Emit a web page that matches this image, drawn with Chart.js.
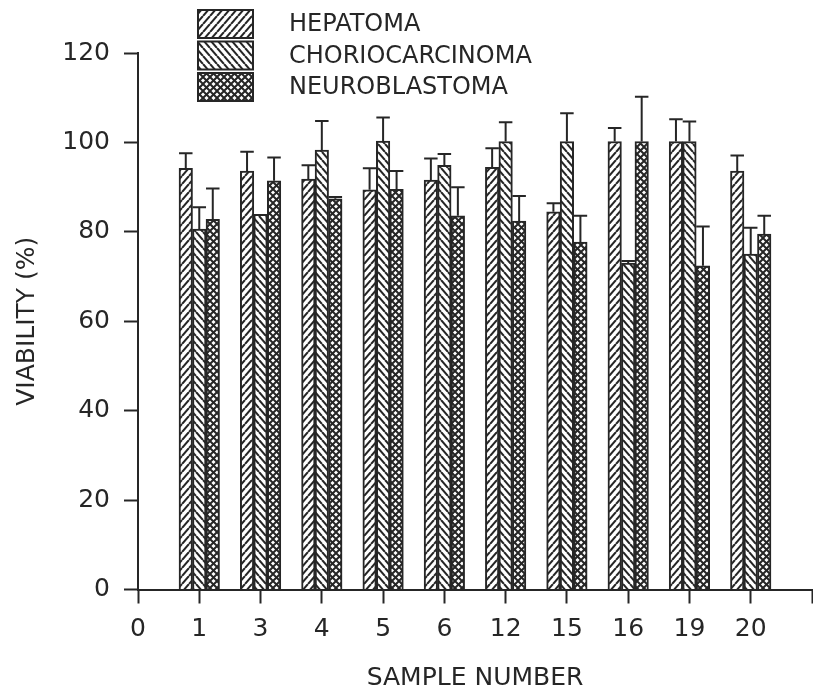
<!DOCTYPE html>
<html>
<head>
<meta charset="utf-8">
<script src="https://cdn.jsdelivr.net/npm/chart.js@4/dist/chart.umd.min.js"></script>
<style>
  html, body { margin: 0; padding: 0; background: #fff; }
  canvas { display: block; }
</style>
</head>
<body>
<canvas id="chart" width="813" height="691"></canvas>
<script>
// --- Data ---
const xLabels = ['0', '1', '3', '4', '5', '6', '12', '15', '16', '19', '20', ''];
const seriesNames = ['HEPATOMA', 'CHORIOCARCINOMA', 'NEUROBLASTOMA'];

const hepatoma    = [94.2, 93.6, 91.8, 89.4, 91.6, 94.4, 84.5, 100.2, 100.2, 93.6];
const hepatomaErr = [3.4, 4.3, 3.1, 4.8, 4.8, 4.3, 1.9, 3.0, 5.0, 3.5];

const chorio    = [80.6, 83.9, 98.3, 100.3, 94.9, 100.2, 100.2, 73.0, 100.2, 75.0];
const chorioErr = [4.9, 0, 6.5, 5.3, 2.5, 4.3, 6.3, 0.5, 4.5, 5.9];

const neuro    = [82.8, 91.4, 87.4, 89.5, 83.6, 82.4, 77.7, 100.2, 72.4, 79.5];
const neuroErr = [6.9, 5.2, 0.4, 4.1, 6.4, 5.6, 5.9, 10.0, 8.8, 4.1];

const yMin = 0, yMax = 120, yStep = 20;

(() => {
    const ink = '#262626';
    const numFont = { family: '"DejaVu Sans", sans-serif', size: 25 };
    const textFont = { family: '"DejaVu Sans", sans-serif', size: 25 };
    const legendFont = { family: '"DejaVu Sans", sans-serif', size: 24 };

    // pad the first ("0") and last (empty) slots of the axis
    const pad = arr => [null, ...arr, null];

    // --- Hatch patterns (plotter-style fills) ---
    function hatch(kind) {
        const w = 7;
        const h = kind === 'cross' ? 7 : 8;
        const c = document.createElement('canvas');
        c.width = w; c.height = h;
        const g = c.getContext('2d');
        g.fillStyle = '#fff';
        g.fillRect(0, 0, w, h);
        g.strokeStyle = ink;
        const up = () => {
            g.beginPath();
            [-w, 0, w].forEach(dx => { g.moveTo(dx, h); g.lineTo(dx + w, 0); });
            g.stroke();
        };
        const down = () => {
            g.beginPath();
            [-w, 0, w].forEach(dx => { g.moveTo(dx, 0); g.lineTo(dx + w, h); });
            g.stroke();
        };
        if (kind === 'up') { g.lineWidth = 2.1; up(); }
        if (kind === 'down') { g.lineWidth = 2.1; down(); }
        if (kind === 'cross') { g.lineWidth = 2; up(); down(); }
        return g.createPattern(c, 'repeat');
    }

    // --- Plugins ---
    const errorBars = {
        id: 'errorBars',
        afterDatasetsDraw(chart) {
            const { ctx } = chart;
            const y = chart.scales.y;
            ctx.save();
            ctx.strokeStyle = ink;
            ctx.lineWidth = 2;
            chart.data.datasets.forEach((ds, i) => {
                const meta = chart.getDatasetMeta(i);
                meta.data.forEach((bar, j) => {
                    const v = ds.data[j], e = ds.errors[j];
                    if (v == null || !e) return;
                    const top = y.getPixelForValue(v + e);
                    const half = bar.width / 2;
                    ctx.beginPath();
                    ctx.moveTo(bar.x, bar.y);
                    ctx.lineTo(bar.x, top);
                    ctx.moveTo(bar.x - half, top);
                    ctx.lineTo(bar.x + half, top);
                    ctx.stroke();
                });
            });
            ctx.restore();
        }
    };

    const boxLegend = {
        id: 'boxLegend',
        afterDraw(chart) {
            const { ctx } = chart;
            ctx.save();
            ctx.font = `${legendFont.size}px ${legendFont.family}`;
            ctx.textBaseline = 'middle';
            chart.data.datasets.forEach((ds, i) => {
                const top = 10 + i * 31.5;
                ctx.fillStyle = ds.backgroundColor;
                ctx.fillRect(198, top, 55, 28);
                ctx.strokeStyle = ink;
                ctx.lineWidth = 2;
                ctx.strokeRect(198, top, 55, 28);
                ctx.fillStyle = ink;
                ctx.fillText(ds.label, 289, top + 15);
            });
            ctx.restore();
        }
    };

    // --- Chart ---
    const series = [
        [hepatoma, hepatomaErr, 'up'],
        [chorio, chorioErr, 'down'],
        [neuro, neuroErr, 'cross']
    ];

    new Chart(document.getElementById('chart').getContext('2d'), {
        type: 'bar',
        data: {
            labels: xLabels,
            datasets: series.map(([vals, errs, kind], i) => ({
                label: seriesNames[i],
                data: pad(vals),
                errors: pad(errs),
                backgroundColor: hatch(kind),
                borderColor: ink,
                borderWidth: 2,
                barThickness: 13.5
            }))
        },
        options: {
            responsive: false,
            animation: false,
            layout: { padding: { top: 53, right: 1, left: 0, bottom: 0 } },
            plugins: { legend: { display: false }, tooltip: { enabled: false } },
            scales: {
                x: {
                    offset: false,
                    grid: { offset: false, drawOnChartArea: false, tickLength: 14, tickWidth: 2, tickColor: ink },
                    border: { color: ink, width: 2 },
                    ticks: { color: ink, font: numFont, padding: 11, maxRotation: 0, autoSkip: false },
                    title: { display: true, text: 'SAMPLE NUMBER', color: ink, font: textFont, padding: { top: 0, bottom: -2 } },
                    afterFit: s => { s.height = 101.5; s.paddingRight = 0; }
                },
                y: {
                    min: yMin,
                    max: yMax,
                    grid: { drawOnChartArea: false, tickLength: 14, tickWidth: 2, tickColor: ink },
                    border: { color: ink, width: 2 },
                    ticks: { stepSize: yStep, color: ink, font: numFont, padding: 14 },
                    title: { display: true, text: 'VIABILITY (%)', color: ink, font: textFont, padding: { top: 12, bottom: 0 } },
                    afterFit: s => { s.width = 138; }
                }
            }
        },
        plugins: [errorBars, boxLegend]
    });
})();
</script>
</body>
</html>
